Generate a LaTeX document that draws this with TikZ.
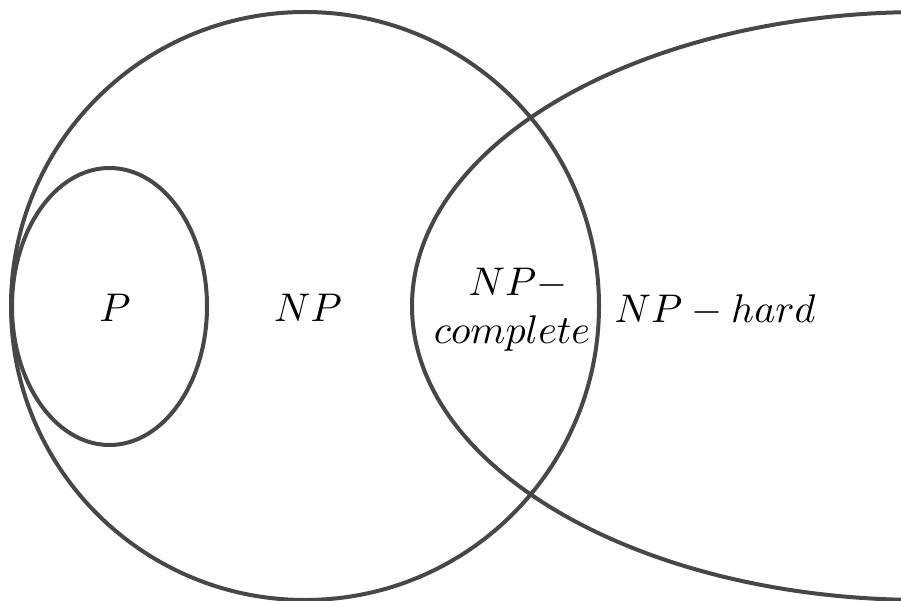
\documentclass[tikz,border=0pt]{standalone}
\usepackage{graphicx}
\begin{document}
\begin{tikzpicture}[x=1pt,y=-1pt,
  setline/.style={draw=black!72, line width=4pt},
  lbl/.style={inner sep=0pt, anchor=base}]
\useasboundingbox (0,0) rectangle (901,601);
\clip (0,0) rectangle (901,601);
\draw[setline] (305,306) circle [radius=294];
\draw[setline] (109.5,306.5) ellipse [x radius=97.5, y radius=138.5];
\draw[setline] (923,306) ellipse [x radius=511, y radius=294];
\node[lbl] (p) at (115,321) {\scalebox{4}{$P$}};
\node[lbl] (np) at (308,321) {\scalebox{4}{$NP$}};
\node[lbl] (npc1) at (518,295) {\scalebox{4}{$NP-$}};
\node[lbl] (npc2) at (512,343) {\scalebox{4}{$complete$}};
\node[lbl] (nph) at (715,322) {\scalebox{4}{$NP-hard$}};
\end{tikzpicture}
\end{document}
